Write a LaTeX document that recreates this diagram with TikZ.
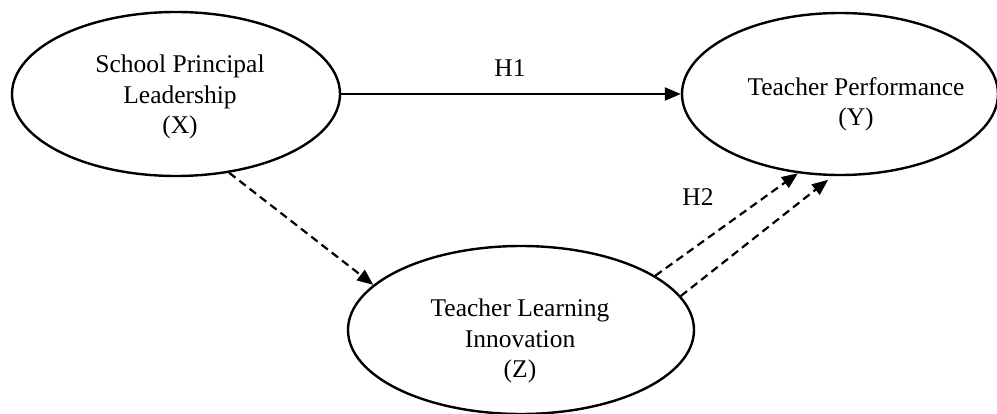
\documentclass[tikz,border=0pt]{standalone}
\usepackage{fontspec}
\setmainfont{Liberation Serif}
\usetikzlibrary{shapes.geometric,arrows.meta}
\begin{document}
\begin{tikzpicture}[x=1pt,y=-1pt,
  var/.style={draw,ellipse,line width=2.4pt,inner sep=0pt},
  txt/.style={align=center,inner sep=0pt,font=\fontsize{25.5}{30.5}\selectfont},
  lbl/.style={inner sep=0pt,font=\fontsize{25.5}{30.5}\selectfont},
  arr/.style={line width=2.2pt,-{Triangle[length=16pt,width=13pt]}},
  dsh/.style={arr,dash pattern=on 8pt off 5pt}]
\useasboundingbox (0,0) rectangle (997,414);
\fill[white] (0,0) rectangle (997,414);
\node[var,minimum width=328pt,minimum height=164pt] (X) at (176,94) {};
\node[var,minimum width=316pt,minimum height=162pt] (Y) at (840,94) {};
\node[var,minimum width=346pt,minimum height=168pt] (Z) at (521,330) {};
\node[txt] (Xt) at (180,97) {School Principal\\Leadership\\(X)};
\node[txt] (Yt) at (856,104) {Teacher Performance\\(Y)};
\node[txt] (Zt) at (520,341) {Teacher Learning\\Innovation\\(Z)};
\draw[arr] (X) -- (Y);
\node[lbl] (H1) at (510,68.5) {H1};
\draw[dsh] (X.-56) -- (Z.163.9);
\draw[dsh] (Z.22.6) -- (Y.-118);
\draw[dsh,shorten >=6pt] (Z.12.4) -- (Y.-95.2);
\node[lbl] (H2) at (698,197) {H2};
\end{tikzpicture}
\end{document}
